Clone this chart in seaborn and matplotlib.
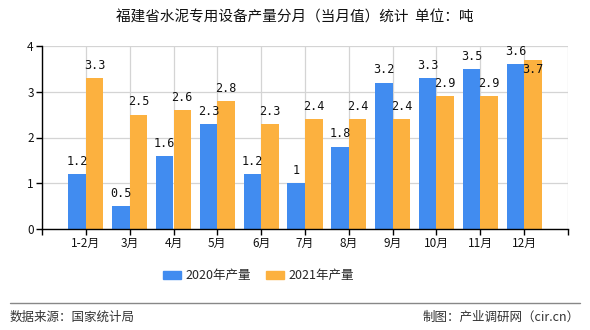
import matplotlib
matplotlib.use("Agg")
import matplotlib.pyplot as plt
import matplotlib.patches as mpatches
import seaborn as sns
import pandas as pd

months = ["1-2月", "3月", "4月", "5月", "6月", "7月", "8月", "9月", "10月", "11月", "12月"]
values_2020 = [1.2, 0.5, 1.6, 2.3, 1.2, 1.0, 1.8, 3.2, 3.3, 3.5, 3.6]
values_2021 = [3.3, 2.5, 2.6, 2.8, 2.3, 2.4, 2.4, 2.4, 2.9, 2.9, 3.7]
series = ["2020年产量", "2021年产量"]
label_2020 = ["1.2", "0.5", "1.6", "2.3", "1.2", "1", "1.8", "3.2", "3.3", "3.5", "3.6"]
label_2021 = ["3.3", "2.5", "2.6", "2.8", "2.3", "2.4", "2.4", "2.4", "2.9", "2.9", "3.7"]
colors = ["#418CF0", "#FCB13F"]

sns.set_theme(style="white")
plt.rcParams["font.family"] = ["Noto Sans CJK SC", "DejaVu Sans"]

df = pd.DataFrame({
    "month": months * 2,
    "value": values_2020 + values_2021,
    "series": [series[0]] * len(months) + [series[1]] * len(months),
})

fig = plt.figure(figsize=(5.9, 3.3), dpi=100)
ax = fig.add_axes([42 / 590, 1 - 229 / 330, (568 - 42) / 590, (229 - 46) / 330])

sns.barplot(data=df, x="month", y="value", hue="series", order=months,
            hue_order=series, palette=colors, width=0.8, saturation=1,
            linewidth=0, ax=ax, legend=False)

n = len(months)
ax.set_xlim(-1, n)
ax.set_ylim(0, 4)
ax.set_xticks(range(-1, n + 1))
ax.set_xticklabels([""] + months + [""], fontsize=8.5, color="#111111")
ax.set_yticks([0, 1, 2, 3, 4])
ax.set_yticklabels(["0", "1", "2", "3", "4"], fontsize=8.5, color="#111111")
ax.set_xlabel("")
ax.set_ylabel("")
ax.grid(True, color="#d4d4d4", linewidth=0.9)
ax.set_axisbelow(True)
for s in ["top", "right"]:
    ax.spines[s].set_visible(False)
ax.spines["left"].set_color("#000000")
ax.spines["bottom"].set_color("#000000")
ax.spines["left"].set_linewidth(1)
ax.spines["bottom"].set_linewidth(1)
ax.tick_params(axis="both", which="major", length=4, width=1, color="#000000",
               direction="out", bottom=True, left=True, pad=2)

mono = ["DejaVu Sans Mono"]
conts = ax.containers
texts_a = ax.bar_label(conts[0], labels=label_2020, padding=4.5, fontsize=8.5,
                       family=mono, color="#111111")
texts_b = ax.bar_label(conts[1], labels=label_2021, padding=4.5, fontsize=8.5,
                       family=mono, color="#111111")
for i, (a, b) in enumerate(zip(values_2020, values_2021)):
    if abs(a - b) < 0.15:
        t = texts_b[i]
        t.xyann = (0, -2)
        t.set_va("top")

handles = [mpatches.Patch(color=c, label=s) for c, s in zip(colors, series)]
fig.legend(handles=handles, loc="center", bbox_to_anchor=(258 / 590, 1 - 276 / 330),
           ncol=2, frameon=False, fontsize=9, handlelength=1.5, handleheight=0.65,
           handletextpad=0.3, columnspacing=1.2)

fig.text(0.5, 1 - 18 / 330, "福建省水泥专用设备产量分月（当月值）统计  单位：吨",
         ha="center", va="center", fontsize=10.5, color="#111111")

fig.add_artist(plt.Line2D([10 / 590, 580 / 590], [1 - 303 / 330, 1 - 303 / 330],
                          color="#888888", linewidth=1))
fig.text(10 / 590, 1 - 317 / 330, "数据来源：国家统计局", ha="left", va="center",
         fontsize=9, color="#333333")
fig.text(580 / 590, 1 - 317 / 330, "制图：产业调研网（cir.cn）", ha="right", va="center",
         fontsize=9, color="#333333")

fig.savefig("out.png", dpi=100)
